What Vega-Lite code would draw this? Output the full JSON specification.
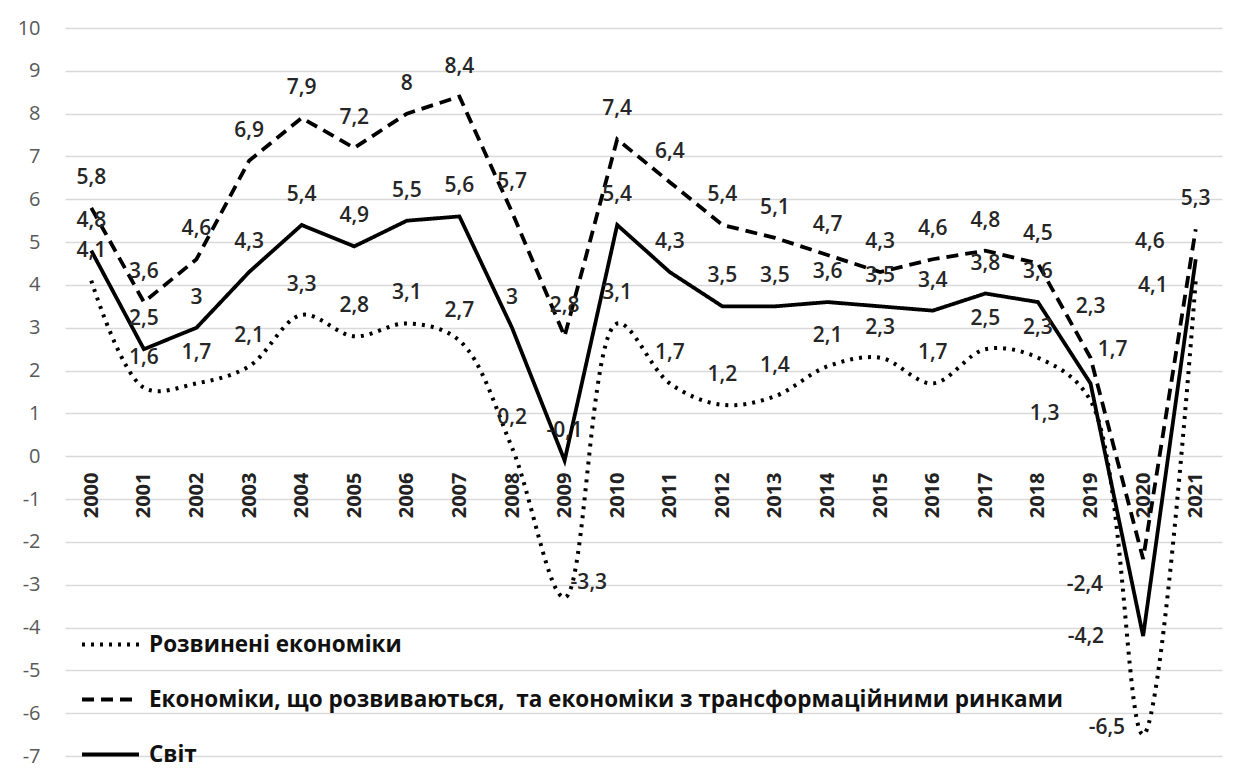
{
  "$schema": "https://vega.github.io/schema/vega-lite/v6.json",
  "width": 1157,
  "height": 728,
  "autosize": {"type": "none"},
  "padding": {"left": 65, "top": 28, "right": 21, "bottom": 18},
  "background": "white",
  "config": {
    "locale": {"number": {"decimal": ",", "thousands": " ", "grouping": [3], "currency": ["", ""], "minus": "-"}},
    "view": {"stroke": null},
    "font": "Open Sans"
  },
  "data": {
    "values": [
      {"year": "2000", "d": 4.1, "e": 5.8, "w": 4.8},
      {"year": "2001", "d": 1.6, "e": 3.6, "w": 2.5},
      {"year": "2002", "d": 1.7, "e": 4.6, "w": 3},
      {"year": "2003", "d": 2.1, "e": 6.9, "w": 4.3},
      {"year": "2004", "d": 3.3, "e": 7.9, "w": 5.4},
      {"year": "2005", "d": 2.8, "e": 7.2, "w": 4.9},
      {"year": "2006", "d": 3.1, "e": 8, "w": 5.5},
      {"year": "2007", "d": 2.7, "e": 8.4, "w": 5.6},
      {"year": "2008", "d": 0.2, "e": 5.7, "w": 3},
      {"year": "2009", "d": -3.3, "e": 2.8, "w": -0.1},
      {"year": "2010", "d": 3.1, "e": 7.4, "w": 5.4},
      {"year": "2011", "d": 1.7, "e": 6.4, "w": 4.3},
      {"year": "2012", "d": 1.2, "e": 5.4, "w": 3.5},
      {"year": "2013", "d": 1.4, "e": 5.1, "w": 3.5},
      {"year": "2014", "d": 2.1, "e": 4.7, "w": 3.6},
      {"year": "2015", "d": 2.3, "e": 4.3, "w": 3.5},
      {"year": "2016", "d": 1.7, "e": 4.6, "w": 3.4},
      {"year": "2017", "d": 2.5, "e": 4.8, "w": 3.8},
      {"year": "2018", "d": 2.3, "e": 4.5, "w": 3.6},
      {"year": "2019", "d": 1.3, "e": 2.3, "w": 1.7},
      {"year": "2020", "d": -6.5, "e": -2.4, "w": -4.2},
      {"year": "2021", "d": 4.1, "e": 5.3, "w": 4.6}
    ]
  },
  "transform": [{"fold": ["d", "e", "w"], "as": ["key", "value"]}],
  "encoding": {
    "x": {
      "field": "year", "type": "ordinal",
      "scale": {"type": "point", "padding": 0.5},
      "axis": {"title": null, "labelAngle": -90, "labelAlign": "right", "labelBaseline": "middle", "offset": -300, "domain": false, "ticks": false, "grid": false, "labelPadding": 16, "labelFontSize": 20, "labelFontWeight": "bold", "labelColor": "#222222"}
    },
    "y": {
      "field": "value", "type": "quantitative",
      "scale": {"domain": [-7, 10], "nice": false, "zero": false},
      "axis": {"title": null, "values": [-7, -6, -5, -4, -3, -2, -1, 0, 1, 2, 3, 4, 5, 6, 7, 8, 9, 10], "format": "d", "domain": false, "ticks": false, "grid": true, "gridColor": "#d9d9d9", "gridWidth": 1.5, "labelPadding": 25, "labelFontSize": 20, "labelColor": "#595959"}
    }
  },
  "layer": [
    {
      "transform": [{"filter": "datum.key === 'd'"}],
      "mark": {"type": "line", "interpolate": "catmull-rom", "color": "black", "strokeWidth": 4},
      "encoding": {
        "strokeDash": {
          "field": "key", "type": "nominal",
          "scale": {"domain": ["d", "e", "w"], "range": [[3, 6], [12, 7], [1, 0]]},
          "legend": {"orient": "none", "legendX": 15, "legendY": 586, "title": null, "symbolType": "stroke", "symbolSize": 3249, "symbolStrokeWidth": 4, "symbolStrokeColor": "black", "labelFontSize": 22.5, "labelFontWeight": "bold", "labelColor": "#111111", "labelLimit": 1200, "labelOffset": 8, "rowPadding": 13,
            "labelExpr": "datum.value === 'd' ? 'Розвинені економіки' : datum.value === 'e' ? 'Економіки, що розвиваються,\u00a0 та економіки з трансформаційними ринками' : 'Світ'"}
        }
      }
    },
    {
      "transform": [{"filter": "datum.key === 'e'"}],
      "mark": {"type": "line", "interpolate": "linear", "color": "black", "strokeWidth": 3.8},
      "encoding": {"strokeDash": {"field": "key", "type": "nominal"}}
    },
    {
      "transform": [{"filter": "datum.key === 'w'"}],
      "mark": {"type": "line", "interpolate": "linear", "color": "black", "strokeWidth": 3.8},
      "encoding": {"strokeDash": {"field": "key", "type": "nominal"}}
    },
    {
      "transform": [{"filter": "!((datum.key === 'd' && datum.year === '2009') || datum.year === '2019' || datum.year === '2020' || (datum.year === '2021' && datum.key !== 'e'))"}],
      "mark": {"type": "text", "align": "center", "baseline": "middle", "dy": -30, "fontSize": 21, "fontWeight": 600, "color": "#262626"},
      "encoding": {"text": {"field": "value", "type": "quantitative", "format": ".1~f"}}
    },
    {
      "transform": [{"filter": "datum.key === 'd' && datum.year === '2009'"}],
      "mark": {"type": "text", "align": "left", "baseline": "middle", "dx": 6, "dy": -15, "fontSize": 21, "fontWeight": 600, "color": "#262626"},
      "encoding": {"text": {"field": "value", "type": "quantitative", "format": ".1~f"}}
    },
    {
      "transform": [{"filter": "datum.key === 'e' && datum.year === '2019'"}],
      "mark": {"type": "text", "align": "center", "baseline": "middle", "dx": 0, "dy": -51, "fontSize": 21, "fontWeight": 600, "color": "#262626"},
      "encoding": {"text": {"field": "value", "type": "quantitative", "format": ".1~f"}}
    },
    {
      "transform": [{"filter": "datum.key === 'w' && datum.year === '2019'"}],
      "mark": {"type": "text", "align": "center", "baseline": "middle", "dx": 22, "dy": -33, "fontSize": 21, "fontWeight": 600, "color": "#262626"},
      "encoding": {"text": {"field": "value", "type": "quantitative", "format": ".1~f"}}
    },
    {
      "transform": [{"filter": "datum.key === 'd' && datum.year === '2019'"}],
      "mark": {"type": "text", "align": "center", "baseline": "middle", "dx": -46, "dy": 13, "fontSize": 21, "fontWeight": 600, "color": "#262626"},
      "encoding": {"text": {"field": "value", "type": "quantitative", "format": ".1~f"}}
    },
    {
      "transform": [{"filter": "datum.key === 'e' && datum.year === '2020'"}],
      "mark": {"type": "text", "align": "right", "baseline": "middle", "dx": -40, "dy": 26, "fontSize": 21, "fontWeight": 600, "color": "#262626"},
      "encoding": {"text": {"field": "value", "type": "quantitative", "format": ".1~f"}}
    },
    {
      "transform": [{"filter": "datum.key === 'w' && datum.year === '2020'"}],
      "mark": {"type": "text", "align": "right", "baseline": "middle", "dx": -39, "dy": 1, "fontSize": 21, "fontWeight": 600, "color": "#262626"},
      "encoding": {"text": {"field": "value", "type": "quantitative", "format": ".1~f"}}
    },
    {
      "transform": [{"filter": "datum.key === 'd' && datum.year === '2020'"}],
      "mark": {"type": "text", "align": "right", "baseline": "middle", "dx": -18, "dy": -7, "fontSize": 21, "fontWeight": 600, "color": "#262626"},
      "encoding": {"text": {"field": "value", "type": "quantitative", "format": ".1~f"}}
    },
    {
      "transform": [{"filter": "datum.key === 'w' && datum.year === '2021'"}],
      "mark": {"type": "text", "align": "right", "baseline": "middle", "dx": -31, "dy": -17, "fontSize": 21, "fontWeight": 600, "color": "#262626"},
      "encoding": {"text": {"field": "value", "type": "quantitative", "format": ".1~f"}}
    },
    {
      "transform": [{"filter": "datum.key === 'd' && datum.year === '2021'"}],
      "mark": {"type": "text", "align": "right", "baseline": "middle", "dx": -28, "dy": 5, "fontSize": 21, "fontWeight": 600, "color": "#262626"},
      "encoding": {"text": {"field": "value", "type": "quantitative", "format": ".1~f"}}
    }
  ]
}
